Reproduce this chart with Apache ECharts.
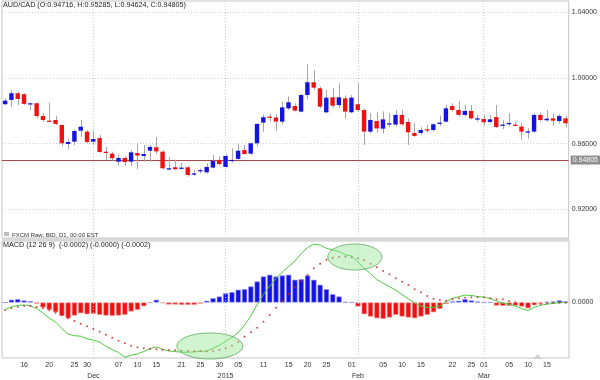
<!DOCTYPE html>
<html><head><meta charset="utf-8">
<script src="https://cdn.jsdelivr.net/npm/echarts@6/dist/echarts.min.js"></script>
<style>html,body{margin:0;padding:0;background:#fff}#c{width:600px;height:380px}</style>
</head><body><div id="c"></div>
<script>
const opens = [0.9840,0.9866,0.9907,0.9901,0.9840,0.9846,0.9768,0.9740,0.9744,0.9714,
0.9598,0.9612,0.9679,0.9673,0.9612,0.9634,0.9551,0.9539,0.9490,0.9513,
0.9490,0.9543,0.9525,0.9557,0.9578,0.9551,0.9444,0.9456,0.9448,0.9456,
0.9413,0.9435,0.9425,0.9454,0.9501,0.9458,0.9495,0.9507,0.9561,0.9539,
0.9602,0.9728,0.9765,0.9759,0.9734,0.9815,0.9829,0.9795,0.9896,0.9974,
0.9937,0.9791,0.9882,0.9835,0.9876,0.9791,0.9840,0.9805,0.9673,0.9738,
0.9691,0.9718,0.9716,0.9775,0.9732,0.9665,0.9665,0.9687,0.9683,0.9722,
0.9734,0.9829,0.9805,0.9775,0.9799,0.9748,0.9750,0.9732,0.9762,0.9712,
0.9718,0.9716,0.9704,0.9669,0.9673,0.9775,0.9742,0.9754,0.9738,0.9754];
const closes = [0.9862,0.9907,0.9872,0.9842,0.9846,0.9768,0.9744,0.9736,0.9720,0.9602,
0.9610,0.9677,0.9703,0.9610,0.9628,0.9549,0.9543,0.9511,0.9513,0.9488,
0.9547,0.9527,0.9537,0.9580,0.9553,0.9450,0.9450,0.9444,0.9454,0.9409,
0.9419,0.9439,0.9458,0.9495,0.9476,0.9525,0.9501,0.9557,0.9537,0.9602,
0.9720,0.9761,0.9759,0.9734,0.9821,0.9852,0.9801,0.9896,0.9974,0.9941,
0.9825,0.9880,0.9831,0.9882,0.9795,0.9880,0.9805,0.9673,0.9744,0.9693,
0.9748,0.9724,0.9775,0.9718,0.9669,0.9647,0.9683,0.9681,0.9718,0.9728,
0.9815,0.9805,0.9775,0.9799,0.9754,0.9754,0.9730,0.9748,0.9701,0.9716,
0.9726,0.9710,0.9673,0.9675,0.9775,0.9744,0.9752,0.9740,0.9768,0.9724];
const highs = [0.9876,0.9927,0.9916,0.9907,0.9850,0.9850,0.9787,0.9848,0.9768,0.9714,
0.9627,0.9688,0.9744,0.9683,0.9679,0.9653,0.9581,0.9551,0.9531,0.9525,
0.9561,0.9602,0.9592,0.9592,0.9640,0.9561,0.9519,0.9501,0.9482,0.9464,
0.9440,0.9449,0.9480,0.9531,0.9521,0.9535,0.9572,0.9596,0.9592,0.9608,
0.9724,0.9775,0.9783,0.9779,0.9856,0.9886,0.9846,0.9901,1.0083,1.0048,
0.9947,0.9927,0.9937,0.9968,0.9892,0.9896,0.9968,0.9815,0.9785,0.9791,
0.9797,0.9785,0.9805,0.9805,0.9754,0.9724,0.9700,0.9714,0.9724,0.9771,
0.9835,0.9846,0.9856,0.9835,0.9835,0.9775,0.9775,0.9775,0.9835,0.9744,
0.9785,0.9734,0.9724,0.9693,0.9785,0.9789,0.9805,0.9785,0.9780,0.9768];
const lows = [0.9835,0.9823,0.9835,0.9835,0.9805,0.9754,0.9734,0.9734,0.9714,0.9586,
0.9566,0.9591,0.9643,0.9602,0.9592,0.9545,0.9501,0.9490,0.9470,0.9464,
0.9464,0.9444,0.9490,0.9490,0.9537,0.9444,0.9440,0.9440,0.9444,0.9398,
0.9403,0.9419,0.9419,0.9450,0.9466,0.9454,0.9486,0.9501,0.9531,0.9531,
0.9581,0.9673,0.9734,0.9677,0.9718,0.9805,0.9795,0.9791,0.9870,0.9927,
0.9815,0.9785,0.9819,0.9815,0.9754,0.9785,0.9795,0.9592,0.9661,0.9667,
0.9661,0.9700,0.9704,0.9709,0.9592,0.9641,0.9653,0.9667,0.9673,0.9708,
0.9728,0.9795,0.9768,0.9765,0.9748,0.9734,0.9708,0.9724,0.9695,0.9689,
0.9708,0.9704,0.9624,0.9630,0.9667,0.9734,0.9734,0.9708,0.9724,0.9700];
const macdLine = [-0.0007,-0.00045,-0.00028,-0.00026,-0.00032,-0.0006,-0.00105,-0.00155,-0.00195,-0.0026,
-0.00315,-0.00332,-0.00337,-0.00363,-0.00375,-0.00395,-0.00438,-0.0047,-0.005,-0.00548,
-0.00527,-0.00513,-0.0049,-0.00462,-0.00445,-0.00468,-0.00485,-0.00492,-0.00496,-0.00498,
-0.00493,-0.0049,-0.00485,-0.00458,-0.00428,-0.00388,-0.0035,-0.003,-0.00225,-0.00135,
-0.0002,0.0008,0.00165,0.0024,0.00305,0.0036,0.00415,0.0049,0.0055,0.00585,
0.00574,0.00542,0.00525,0.0051,0.00477,0.00465,0.00405,0.0034,0.00288,0.0023,
0.00192,0.00158,0.00125,0.00078,0.00038,-0.00005,-0.00036,-0.0005,-0.00048,-0.00035,
0.00008,0.00042,0.00057,0.00074,0.0007,0.0006,0.00054,0.0004,0.00015,-0.00007,
-0.00017,-0.00035,-0.00062,-0.0008,-0.00048,-0.00028,-0.00016,-0.00009,-0.00003,0];
const signalLine = [-0.00075,-0.00058,-0.00042,-0.00032,-0.00035,-0.00045,-0.00058,-0.00078,-0.00102,-0.00125,
-0.00158,-0.00185,-0.00212,-0.00238,-0.00265,-0.00292,-0.00322,-0.00352,-0.00382,-0.00408,
-0.00432,-0.00448,-0.00458,-0.00465,-0.00468,-0.00472,-0.00475,-0.00478,-0.00482,-0.00485,
-0.00488,-0.00485,-0.00488,-0.00485,-0.00475,-0.00458,-0.00432,-0.00392,-0.00342,-0.00298,
-0.00252,-0.00192,-0.00125,-0.00052,0.00018,0.00085,0.00152,0.00215,0.00275,0.00342,
0.00388,0.00428,0.00448,0.00458,0.00458,0.00452,0.00442,0.00422,0.00388,0.00352,
0.00315,0.00282,0.00242,0.00208,0.00175,0.00132,0.00102,0.00065,0.00035,0.00025,
0.00018,0.00032,0.00042,0.00048,0.00052,0.00052,0.00052,0.00042,0.00032,0.00032,
0.00015,0.00002,-0.00008,-0.00018,-0.00018,-0.00015,-0.00008,-0.00002,-0.00002,-0.00002];
const histogram = [0,0.00027,0.00033,0.0002,0.00013,-0.0001,-0.0005,-0.00073,-0.00097,-0.00133,
-0.00157,-0.0013,-0.00107,-0.00117,-0.00113,-0.00123,-0.0013,-0.00133,-0.0013,-0.00123,
-0.0009,-0.00073,-0.00037,-0.00003,0.00027,-0.00005,-0.0002,-0.0002,-0.00023,-0.00023,
-0.00023,-0.0001,0.00017,0.00043,0.0006,0.00093,0.00103,0.00127,0.00133,0.0016,
0.0021,0.0026,0.00277,0.0026,0.0027,0.00277,0.00227,0.00233,0.0027,0.00227,
0.00177,0.00133,0.00083,0.0006,0.00007,0,-0.0004,-0.00117,-0.0014,-0.00157,
-0.00163,-0.0015,-0.00123,-0.0014,-0.0015,-0.00157,-0.0014,-0.00123,-0.00097,-0.00063,
-0.00013,0.0001,0.00017,0.00033,0.0002,0.0001,0.00003,0,-0.0003,-0.00033,
-0.00033,-0.0003,-0.0004,-0.00057,-0.00023,-0.0001,0.00007,0.0001,0.0002,0.0001];
const dayTickIndex = [3,7,11,13,18,21,24,28,31,34,37,41,45,48,51,55,60,63,66,71,74,76,80,83,86];
const dayTickLabels = ['16','20','25','30','07','10','15','21','25','30','05','11','15','20','25','01','05','10','15','22','25','01','05','10','15'];
const monthTickIndex = [14,35,56,76];
const monthTickLabels = ['Dec','2015','Feb','Mar'];
const priceTicks = [0.92,0.96,1.00,1.04];
const lastClose = 0.94805;
const macdTicks = [0];

const chart = echarts.init(document.getElementById('c'));
const cats = opens.map((_, i) => String(i));
const ohlc = opens.map((o, i) => [i, o, closes[i], lows[i], highs[i]]);
const UP = '#1414e0', DOWN = '#ee1212';
const FONT = 'Liberation Sans, Arial, sans-serif';

function renderCandle(params, api) {
  const x = api.value(0), o = api.value(1), c = api.value(2), l = api.value(3), h = api.value(4);
  const pO = api.coord([x, o]), pC = api.coord([x, c]), pL = api.coord([x, l]), pH = api.coord([x, h]);
  const bw = api.size([1, 0])[0] * 0.7;
  const top = Math.min(pO[1], pC[1]);
  let ht = Math.abs(pO[1] - pC[1]); if (ht < 1.3) ht = 1.3;
  const xc = Math.round(pO[0]) + 0.5;
  return {type: 'group', children: [
    {type: 'line', shape: {x1: xc, y1: pH[1], x2: xc, y2: pL[1]}, style: {stroke: '#a6a6a6', lineWidth: 1}},
    {type: 'rect', shape: {x: pO[0] - bw / 2, y: top, width: bw, height: ht}, style: {fill: c >= o ? UP : DOWN}}
  ]};
}

const dotted = {color: '#cfcfcf', type: [1, 2], width: 1};
const priceMark = priceTicks.map(v => ({yAxis: v, lineStyle: dotted, label: {show: false}}));
const monthMark = monthTickIndex.map(i => ({xAxis: String(i), lineStyle: dotted, label: {show: false}}));

const option = {
  animation: false,
  backgroundColor: '#fff',
  textStyle: {fontFamily: FONT},
  grid: [
    {left: 2, right: 31, top: 1, height: 237, show: true, borderColor: '#c4c4c4', borderWidth: 1},
    {left: 2, right: 31, top: 241, height: 117, show: true, borderColor: '#c4c4c4', borderWidth: 1}
  ],
  xAxis: [
    {gridIndex: 0, type: 'category', data: cats, boundaryGap: true, axisLine: {show: false}, axisTick: {show: false}, axisLabel: {show: false}, splitLine: {show: false}},
    {gridIndex: 1, type: 'category', data: cats, boundaryGap: true, axisLine: {show: false}, axisTick: {show: false}, splitLine: {show: false},
      axisLabel: {interval: (i) => dayTickIndex.includes(i), formatter: (v, i) => dayTickLabels[dayTickIndex.indexOf(i)] || '', fontSize: 7, color: '#333', margin: 4, fontFamily: FONT}},
    {gridIndex: 1, type: 'category', data: cats, boundaryGap: true, position: 'bottom', offset: 11, axisLine: {show: false}, axisTick: {show: false}, splitLine: {show: false},
      axisLabel: {interval: (i) => monthTickIndex.includes(i), formatter: (v, i) => monthTickLabels[monthTickIndex.indexOf(i)] || '', fontSize: 7, color: '#333', margin: 4, fontFamily: FONT}}
  ],
  yAxis: [
    {gridIndex: 0, type: 'value', position: 'right', min: 0.90252, max: 1.04688, axisLine: {show: false},
      axisTick: {show: false, customValues: priceTicks}, splitLine: {show: false},
      axisLabel: {customValues: priceTicks, formatter: v => v.toFixed(5), fontSize: 7, color: '#333', margin: 3, fontFamily: FONT}},
    {gridIndex: 1, type: 'value', position: 'right', min: -0.00555, max: 0.00615, axisLine: {show: false},
      axisTick: {show: false, customValues: macdTicks}, splitLine: {show: false},
      axisLabel: {customValues: macdTicks, formatter: v => Math.abs(v).toFixed(4), fontSize: 7, color: '#333', margin: 3, fontFamily: FONT}}
  ],
  series: [
    {type: 'custom', name: 'AUD/CAD', xAxisIndex: 0, yAxisIndex: 0, data: ohlc, renderItem: renderCandle,
      encode: {x: 0, y: [1, 2, 3, 4]}, z: 3,
      markLine: {silent: true, symbol: 'none', animation: false, z: 1,
        data: priceMark.concat(monthMark).concat([
          {yAxis: lastClose, lineStyle: {color: '#a84848', type: 'solid', width: 1},
           label: {show: true, position: 'end', formatter: lastClose.toFixed(5), backgroundColor: '#8e8e8e', color: '#fff', padding: [1, 2, 1, 2], fontSize: 7, distance: 2, fontFamily: FONT}}
        ])}},
    {type: 'bar', name: 'Histogram', xAxisIndex: 1, yAxisIndex: 1, barWidth: '82%',
      data: histogram.map(v => ({value: v, itemStyle: {color: v >= 0 ? '#1212e6' : '#f01010', borderColor: v >= 0 ? '#8c8cf0' : '#f08c8c', borderWidth: 0.6}})),
      markLine: {silent: true, symbol: 'none', animation: false, data: monthMark}},
    {type: 'line', name: 'MACD', xAxisIndex: 1, yAxisIndex: 1, data: macdLine, showSymbol: false, symbol: 'none',
      lineStyle: {color: '#4ccc3c', width: 1}, z: 4},
    {type: 'scatter', name: 'Signal', xAxisIndex: 1, yAxisIndex: 1, data: signalLine, symbol: 'circle', symbolSize: 2,
      itemStyle: {color: '#c82020'}, z: 5}
  ]
};
chart.setOption(option);

function px(idx, val) { return chart.convertToPixel({xAxisIndex: 1, yAxisIndex: 1}, [idx, val]); }
const e1a = px(32, -0.00435), e1b = px(33, -0.00435);
const e2a = px(55, 0.00455), e2b = px(56, 0.00455);
chart.setOption({graphic: [
  {type: 'rect', left: 2, top: 238, shape: {width: 567, height: 3}, style: {fill: '#d8d8d8'}, silent: true},
  {type: 'text', left: 3, top: 2, style: {text: 'AUD/CAD (O:0.94716, H:0.95285, L:0.94624, C:0.94805)', font: '7.2px ' + FONT, fill: '#222'}},
  {type: 'rect', left: 4, top: 232, shape: {width: 5, height: 4}, style: {fill: '#bdbdbd'}},
  {type: 'text', left: 12, top: 232, style: {text: 'FXCM Raw, BID, D1, 00:00 EST', font: '6px ' + FONT, fill: '#333'}},
  {type: 'text', left: 3, top: 242, style: {text: 'MACD (12 26 9)  (-0.0002) (-0.0000) (-0.0002)', font: '7.2px ' + FONT, fill: '#222'}},
  {type: 'ellipse', shape: {cx: (e1a[0] + e1b[0]) / 2, cy: e1a[1], rx: 33, ry: 13}, style: {fill: 'rgba(150,230,150,0.45)', stroke: '#5aa85a', lineWidth: 0.8}, z: 100},
  {type: 'ellipse', shape: {cx: (e2a[0] + e2b[0]) / 2, cy: e2a[1], rx: 27, ry: 13}, style: {fill: 'rgba(150,230,150,0.45)', stroke: '#5aa85a', lineWidth: 0.8}, z: 100},
  {type: 'polygon', shape: {points: [[533, 359], [537.5, 354], [542, 359]]}, style: {fill: '#cfcfcf'}, z: 100}
]});
</script></body></html>
